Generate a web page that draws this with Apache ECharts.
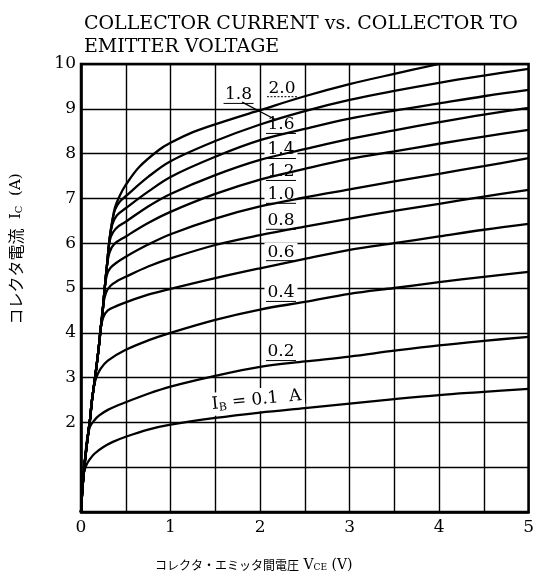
<!DOCTYPE html>
<html><head><meta charset="utf-8">
<script src="https://cdn.jsdelivr.net/npm/echarts@6/dist/echarts.min.js"></script>
<style>html,body{margin:0;padding:0;background:#fff}#c{width:537px;height:576px}</style>
</head><body><div id="c"></div>
<script>
// ---- data ----
const titleLines = ['COLLECTOR CURRENT vs. COLLECTOR TO', 'EMITTER VOLTAGE'];
const xTickLabels = [0, 1, 2, 3, 4, 5];
const yTickLabels = [2, 3, 4, 5, 6, 7, 8, 9, 10];

const ib01 = [[0,0],[0.015,0.5],[0.03,0.85],[0.06,1.05],[0.1,1.18],[0.15,1.3],[0.25,1.45],[0.35,1.56],[0.5,1.68],[0.75,1.84],[1.0,1.95],[1.5,2.1],[2.0,2.22],[2.5,2.32],[3.0,2.42],[3.5,2.52],[4.0,2.61],[4.5,2.68],[5.0,2.75]];
const ib02 = [[0,0],[0.015,0.5],[0.03,0.85],[0.05,1.3],[0.07,1.65],[0.1,1.9],[0.15,2.05],[0.2,2.15],[0.3,2.28],[0.5,2.45],[0.75,2.64],[1.0,2.8],[1.5,3.04],[2.0,3.24],[2.5,3.36],[3.0,3.47],[3.5,3.6],[4.0,3.72],[4.5,3.82],[5.0,3.91]];
const ib04 = [[0,0],[0.015,0.5],[0.03,0.85],[0.05,1.25],[0.08,1.75],[0.1,2.05],[0.12,2.45],[0.14,2.75],[0.17,3.0],[0.22,3.2],[0.3,3.38],[0.5,3.62],[0.75,3.83],[1.0,4.0],[1.5,4.29],[2.0,4.52],[2.5,4.69],[3.0,4.87],[3.5,5.0],[4.0,5.13],[4.5,5.25],[5.0,5.36]];
const ib06 = [[0,0],[0.015,0.5],[0.03,0.85],[0.05,1.25],[0.08,1.75],[0.1,2.05],[0.12,2.45],[0.14,2.75],[0.17,3.2],[0.2,3.7],[0.22,4.1],[0.25,4.35],[0.3,4.5],[0.4,4.6],[0.5,4.68],[0.75,4.85],[1.0,4.98],[1.5,5.22],[2.0,5.44],[2.5,5.65],[3.0,5.85],[3.5,6.0],[4.0,6.15],[4.5,6.3],[5.0,6.43]];
const ib08 = [[0,0],[0.015,0.5],[0.03,0.85],[0.05,1.25],[0.08,1.75],[0.1,2.05],[0.12,2.45],[0.14,2.75],[0.17,3.2],[0.2,3.7],[0.22,4.1],[0.25,4.65],[0.28,4.9],[0.33,5.05],[0.4,5.15],[0.5,5.25],[0.75,5.48],[1.0,5.66],[1.5,5.96],[2.0,6.18],[2.5,6.37],[3.0,6.55],[3.5,6.72],[4.0,6.88],[4.5,7.04],[5.0,7.19]];
const ib10 = [[0,0],[0.015,0.5],[0.03,0.85],[0.05,1.25],[0.08,1.75],[0.1,2.05],[0.12,2.45],[0.14,2.75],[0.17,3.2],[0.2,3.7],[0.22,4.1],[0.24,4.44],[0.265,5.0],[0.29,5.3],[0.33,5.45],[0.4,5.57],[0.5,5.7],[0.75,5.97],[1.0,6.2],[1.5,6.55],[2.0,6.82],[2.5,7.02],[3.0,7.2],[3.5,7.38],[4.0,7.55],[4.5,7.72],[5.0,7.9]];
const ib12 = [[0,0],[0.015,0.5],[0.03,0.85],[0.05,1.25],[0.08,1.75],[0.1,2.05],[0.12,2.45],[0.14,2.75],[0.17,3.2],[0.2,3.7],[0.22,4.1],[0.24,4.44],[0.265,5.0],[0.29,5.5],[0.32,5.8],[0.37,5.98],[0.5,6.15],[0.75,6.45],[1.0,6.7],[1.5,7.1],[2.0,7.42],[2.5,7.66],[3.0,7.88],[3.5,8.05],[4.0,8.22],[4.5,8.38],[5.0,8.53]];
const ib14 = [[0,0],[0.015,0.5],[0.03,0.85],[0.05,1.25],[0.08,1.75],[0.1,2.05],[0.12,2.45],[0.14,2.75],[0.17,3.2],[0.2,3.7],[0.22,4.1],[0.24,4.44],[0.265,5.0],[0.29,5.5],[0.32,6.05],[0.36,6.25],[0.42,6.38],[0.5,6.48],[0.75,6.82],[1.0,7.1],[1.5,7.52],[2.0,7.86],[2.5,8.1],[3.0,8.33],[3.5,8.52],[4.0,8.7],[4.5,8.87],[5.0,9.02]];
const ib16 = [[0,0],[0.015,0.5],[0.03,0.85],[0.05,1.25],[0.08,1.75],[0.1,2.05],[0.12,2.45],[0.14,2.75],[0.17,3.2],[0.2,3.7],[0.22,4.1],[0.24,4.44],[0.265,5.0],[0.29,5.5],[0.32,6.1],[0.35,6.42],[0.4,6.62],[0.5,6.78],[0.75,7.15],[1.0,7.48],[1.5,7.93],[2.0,8.3],[2.5,8.55],[3.0,8.78],[3.5,8.96],[4.0,9.12],[4.5,9.28],[5.0,9.42]];
const ib18 = [[0,0],[0.015,0.5],[0.03,0.85],[0.05,1.25],[0.08,1.75],[0.1,2.05],[0.12,2.45],[0.14,2.75],[0.17,3.2],[0.2,3.7],[0.22,4.1],[0.24,4.44],[0.265,5.0],[0.29,5.5],[0.32,6.1],[0.35,6.5],[0.38,6.75],[0.43,6.92],[0.5,7.05],[0.75,7.48],[1.0,7.83],[1.5,8.28],[2.0,8.65],[2.5,8.95],[3.0,9.2],[3.5,9.4],[4.0,9.58],[4.5,9.74],[5.0,9.89]];
const ib20 = [[0,0],[0.015,0.5],[0.03,0.85],[0.05,1.25],[0.08,1.75],[0.1,2.05],[0.12,2.45],[0.14,2.75],[0.17,3.2],[0.2,3.7],[0.22,4.1],[0.24,4.44],[0.265,5.0],[0.29,5.5],[0.32,6.1],[0.35,6.5],[0.38,6.8],[0.43,7.05],[0.5,7.3],[0.65,7.7],[0.87,8.08],[1.0,8.24],[1.25,8.48],[1.6,8.72],[2.0,8.97],[2.5,9.28],[3.0,9.55],[3.5,9.78],[4.0,10.0]];

const curveNames = ['0.1','0.2','0.4','0.6','0.8','1.0','1.2','1.4','1.6','1.8','2.0'];
const curveData = [ib01, ib02, ib04, ib06, ib08, ib10, ib12, ib14, ib16, ib18, ib20];

// curve labels: text and anchor in data space (V, A)
const labelTexts = ['2.0','1.8','1.6','1.4','1.2','1.0','0.8','0.6','0.4','0.2'];
const labelAnchors = [[2.245,9.46],[1.76,9.31],[2.234,8.64],[2.234,8.08],[2.234,7.59],[2.234,7.08],[2.234,6.5],[2.234,5.8],[2.234,4.89],[2.234,3.57]];
const leader18 = [[1.80,9.15],[2.18,8.75]];
const ibLabelAnchor = [1.962, 2.50];

// ---- chart ----
const serif = '"DejaVu Serif", "Liberation Serif", serif';
const jp = '"Noto Sans CJK JP", "Noto Sans", sans-serif';
const chart = echarts.init(document.getElementById('c'));

chart.setOption({
  animation: false,
  backgroundColor: '#fff',
  title: {
    text: titleLines.join('\n'), left: 79, top: 8,
    textStyle: {fontFamily: serif, fontSize: 19, fontWeight: 'normal', color: '#000', lineHeight: 23}
  },
  grid: {left: 81, right: 5, top: 64, bottom: 64, show: true, borderColor: '#000', borderWidth: 2.5, backgroundColor: 'transparent'},
  xAxis: {
    type: 'value', min: 0, max: 5, interval: 0.5,
    axisLine: {show: true, lineStyle: {color: '#000', width: 2.5}},
    axisTick: {show: false},
    splitLine: {show: true, lineStyle: {color: '#000', width: 1.4}},
    axisLabel: {
      color: '#000', fontFamily: serif, fontSize: 17, margin: 7,
      formatter: v => xTickLabels.indexOf(v) >= 0 ? String(v) : ''
    }
  },
  yAxis: {
    type: 'value', min: 0, max: 10, interval: 1,
    axisLine: {show: true, lineStyle: {color: '#000', width: 2.5}},
    axisTick: {show: false},
    splitLine: {show: true, lineStyle: {color: '#000', width: 1.4}},
    axisLabel: {
      color: '#000', fontFamily: serif, fontSize: 17, margin: 5,
      formatter: v => yTickLabels.indexOf(v) >= 0 ? String(v) : ''
    }
  },
  series: curveData.map((d, k) => ({
    type: 'line', name: curveNames[k], data: d,
    symbol: 'none', showSymbol: false, smooth: 0.35,
    lineStyle: {color: '#000', width: 2.3}, z: 5, silent: true
  }))
});

const px = p => chart.convertToPixel({gridIndex: 0}, p);
const graphics = [];
labelTexts.forEach((t, k) => {
  const [x, y] = px(labelAnchors[k]);
  graphics.push({
    type: 'text', z: 3, silent: true,
    style: {text: t, x: x, y: y, align: 'center', verticalAlign: 'middle',
      font: '17px ' + serif, fill: '#000', backgroundColor: '#fff', padding: [1, 3]}
  });
  graphics.push({
    type: 'line', z: 4, silent: true,
    shape: {x1: x - 15, y1: y + 8.5, x2: x + 15, y2: y + 8.5},
    style: {stroke: '#000', lineWidth: 1, lineDash: t === '2.0' ? [2, 1.5] : null}
  });
});
{
  const a = px(leader18[0]), b = px(leader18[1]);
  graphics.push({type: 'line', z: 4, silent: true, shape: {x1: a[0], y1: a[1], x2: b[0], y2: b[1]}, style: {stroke: '#000', lineWidth: 1.3}});
}
{
  const [x, y] = px(ibLabelAnchor);
  graphics.push({
    type: 'text', z: 3, silent: true, x: x, y: y, rotation: 0.1,
    style: {
      text: '{i|I}{s|B}{n| = 0.1  A}', x: 0, y: 0, align: 'center', verticalAlign: 'middle',
      backgroundColor: '#fff', padding: [2, 3],
      rich: {
        i: {fontFamily: serif, fontSize: 17, fill: '#000'},
        s: {fontFamily: serif, fontSize: 11, fill: '#000', verticalAlign: 'bottom', padding: [8, 0, 0, 0]},
        n: {fontFamily: serif, fontSize: 17, fill: '#000'}
      }
    }
  });
}
// axis names
graphics.push({
  type: 'text', silent: true, x: 155, y: 565,
  style: {
    text: '{j|コレクタ・エミッタ間電圧}{i| V}{s|CE}{i| (V)}', align: 'left', verticalAlign: 'middle',
    rich: {
      j: {fontFamily: jp, fontSize: 12, fill: '#000'},
      i: {fontFamily: serif, fontSize: 14, fill: '#000'},
      s: {fontFamily: serif, fontSize: 9, fill: '#000', verticalAlign: 'bottom', padding: [6, 0, 0, 0]}
    }
  }
});
graphics.push({
  type: 'text', silent: true, x: 16, y: 249, rotation: Math.PI / 2,
  style: {
    text: '{j|コレクタ電流}{i|  I}{s|C}{i|  (A)}', align: 'center', verticalAlign: 'middle',
    rich: {
      j: {fontFamily: jp, fontSize: 16, fill: '#000'},
      i: {fontFamily: serif, fontSize: 15, fill: '#000'},
      s: {fontFamily: serif, fontSize: 10, fill: '#000', verticalAlign: 'bottom', padding: [6, 0, 0, 0]}
    }
  }
});
chart.setOption({graphic: graphics});
</script></body></html>
